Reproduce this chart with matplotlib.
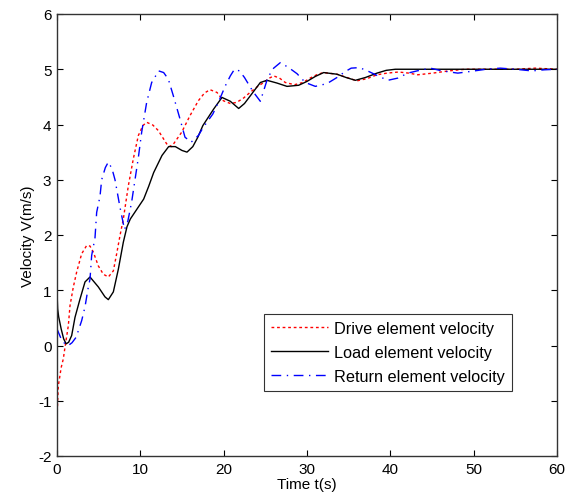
import matplotlib
matplotlib.use("Agg")
import matplotlib.pyplot as plt

plt.rcParams['font.family'] = ['Liberation Sans', 'DejaVu Sans']
plt.rcParams['axes.unicode_minus'] = False

# Drive element velocity (red dotted)
t_drive = [0, 0.16, 0.5, 0.76, 0.96, 1.36, 1.56, 1.96, 2.36, 2.96, 3.56, 3.96, 4.36, 4.96, 5.56,
           6.16, 6.76, 7.16, 7.56, 7.96, 8.56, 9.16, 9.76, 10.3, 10.76, 11.5, 12.16, 13.16, 13.76,
           14.96, 15.96, 16.96, 17.7, 18.36, 19.2, 19.96, 20.8, 21.56, 22.4, 23.16, 24.0, 24.8, 25.5,
           26.0, 26.7, 27.4, 28.5, 29.5, 30.5, 31.3, 32.0, 33.6, 35.0, 36.0, 37.2, 38.4, 39.6, 41.0,
           42.2, 43.3, 45.1, 47.0, 49.0, 51.0, 53.0, 55.0, 57.4, 60.0]
v_drive = [-1.3, -0.73, -0.4, -0.24, -0.03, 0.36, 0.72, 1.06, 1.33, 1.66, 1.81, 1.8, 1.69, 1.44, 1.29,
           1.24, 1.35, 1.66, 1.99, 2.29, 2.89, 3.38, 3.8, 3.98, 4.04, 3.99, 3.89, 3.65, 3.6,
           3.86, 4.16, 4.43, 4.57, 4.63, 4.58, 4.43, 4.38, 4.4, 4.48, 4.58, 4.68, 4.76, 4.84,
           4.88, 4.84, 4.76, 4.72, 4.76, 4.85, 4.91, 4.94, 4.91, 4.84, 4.79, 4.83, 4.9, 4.93, 4.95,
           4.93, 4.9, 4.93, 4.97, 5.0, 5.0, 5.0, 5.0, 5.02, 5.0]

# Load element velocity (black solid)
t_load = [0, 0.08, 0.2, 0.5, 0.8, 1.1, 1.4, 1.76, 2.16, 2.76, 3.36, 3.96, 4.96, 5.76, 6.16, 6.76,
          7.36, 7.96, 8.4, 8.8, 9.6, 10.4, 11.0, 11.6, 12.6, 13.4, 14.2, 15.0, 15.6, 16.3, 16.9,
          17.5, 18.8, 19.8, 20.8, 21.8, 22.5, 23.2, 24.4, 25.2, 26.4, 27.6, 29.0, 30.0, 31.0, 32.0,
          33.6, 34.7, 35.8, 37.0, 38.4, 39.5, 40.6, 45.0, 50.0, 55.0, 60.0]
v_load = [0.97, 0.66, 0.52, 0.3, 0.12, 0.03, 0.06, 0.18, 0.51, 0.84, 1.15, 1.24, 1.06, 0.88, 0.83, 0.97,
          1.38, 1.87, 2.15, 2.29, 2.47, 2.65, 2.88, 3.13, 3.44, 3.6, 3.6, 3.53, 3.5, 3.6, 3.77,
          3.98, 4.28, 4.49, 4.42, 4.29, 4.38, 4.52, 4.76, 4.8, 4.75, 4.69, 4.71, 4.78, 4.87, 4.94,
          4.91, 4.85, 4.8, 4.85, 4.93, 4.98, 5.0, 5.0, 5.0, 5.0, 5.0]

# Return element velocity (blue dash-dot)
t_return = [0, 0.5, 1.0, 1.36, 1.8, 2.3, 2.96, 3.36, 3.56, 3.76, 3.96, 4.16, 4.56, 4.76, 5.16, 5.36,
            5.8, 6.16, 6.6, 6.96, 7.56, 8.1, 8.5, 8.96, 9.36, 9.76, 10.16, 10.76, 11.36, 12.2, 12.8,
            13.36, 13.96, 14.76, 15.36, 16.1, 16.96, 17.56, 18.7, 19.5, 20.2, 20.8, 21.3, 21.9, 22.5,
            23.5, 24.4, 25.3, 26.0, 26.8, 27.8, 28.8, 29.8, 31.0, 32.4, 33.7, 34.5, 35.3, 36.3, 37.4,
            38.8, 39.7, 40.9, 42.1, 43.2, 44.8, 46.2, 48.1, 49.6, 51.5, 53.2, 55.0, 57.0, 58.5, 60.0]
v_return = [0.3, 0.12, 0.02, 0.0, 0.05, 0.15, 0.45, 0.7, 0.88, 1.06, 1.2, 1.63, 1.95, 2.41, 2.7, 3.0,
            3.22, 3.32, 3.2, 3.0, 2.5, 2.1, 2.25, 2.6, 3.0, 3.4, 3.86, 4.4, 4.76, 4.97, 4.94,
            4.82, 4.52, 4.1, 3.77, 3.68, 3.8, 3.95, 4.19, 4.45, 4.7, 4.88, 5.0, 4.97, 4.85,
            4.6, 4.42, 4.85, 5.02, 5.12, 5.03, 4.92, 4.76, 4.69, 4.74, 4.86, 4.95, 5.02, 5.03, 4.96,
            4.86, 4.8, 4.84, 4.93, 4.97, 5.02, 4.97, 4.93, 4.96, 5.0, 5.02, 5.0, 4.97, 4.99, 5.0]

x_ticks = [0, 10, 20, 30, 40, 50, 60]
y_ticks = [-2, -1, 0, 1, 2, 3, 4, 5, 6]

fig = plt.figure(figsize=(5.65, 5.02), dpi=100)
ax = fig.add_axes([57/565, 45/502, 500/565, 442/502])

ax.plot(t_drive, v_drive, color='#ff0000', linestyle=(0, (2, 2)), linewidth=1.0,
        label='Drive element velocity')
ax.plot(t_load, v_load, color='black', linestyle='-', linewidth=1.0,
        label='Load element velocity')
ax.plot(t_return, v_return, color='#0000ff', linestyle=(0, (7, 4, 1, 4)), linewidth=1.0,
        label='Return element velocity')

ax.set_xlim(0, 60)
ax.set_ylim(-2, 6)
ax.set_xticks(x_ticks)
ax.set_yticks(y_ticks)
ax.tick_params(direction='in', top=True, right=True, length=4, labelsize=11, pad=4)
for s in ax.spines.values():
    s.set_linewidth(1.0)
    s.set_color('#333333')

ax.set_xlabel('Time t(s)', fontsize=11, labelpad=1)
ax.set_ylabel('Velocity V(m/s)', fontsize=11, labelpad=2)

leg = ax.legend(loc='lower right', bbox_to_anchor=(0.91, 0.147), borderaxespad=0,
                fontsize=11.7, frameon=True, fancybox=False, handlelength=3.5,
                handletextpad=0.35, labelspacing=0.55, borderpad=0.45)
leg.get_frame().set_edgecolor('black')
leg.get_frame().set_linewidth(0.8)

fig.savefig('out.png', dpi=100)
